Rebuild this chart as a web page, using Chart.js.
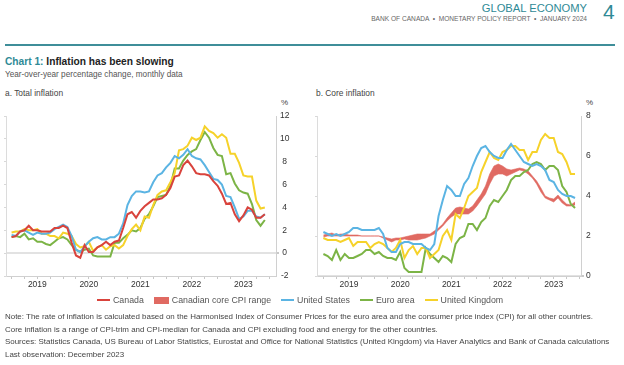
<!DOCTYPE html>
<html><head><meta charset="utf-8">
<script src="https://cdn.jsdelivr.net/npm/chart.js@4.4.1/dist/chart.umd.min.js"></script>
<style>
body{margin:0;background:#fff;font-family:"Liberation Sans",Arial,sans-serif;color:#333;}
#page{position:relative;width:624px;height:365px;overflow:hidden;background:#fff;}
.t{position:absolute;white-space:nowrap;}
.leg{position:absolute;left:97px;top:294px;height:12px;display:flex;align-items:center;font-size:8.8px;color:#555;}
.leg .it{display:flex;align-items:center;margin-right:10px;}
.leg .ln{width:13px;height:2px;margin-right:3px;}
.leg .bx{width:15px;height:7px;margin-right:3px;}
.note{position:absolute;left:5px;font-size:7.95px;color:#444;white-space:nowrap;}
</style></head><body>
<div id="page">
  <div class="t" style="right:37px;top:2px;font-size:11.2px;color:#2f8a96">GLOBAL ECONOMY</div>
  <div class="t" style="right:37px;top:15px;font-size:6.6px;color:#666">BANK OF CANADA &nbsp;•&nbsp; MONETARY POLICY REPORT &nbsp;•&nbsp; JANUARY 2024</div>
  <div class="t" style="left:603px;top:0px;font-size:21px;color:#2f8a96;font-weight:300">4</div>
  <div style="position:absolute;left:5px;top:44px;width:610px;height:2px;background:#3f8e99"></div>
  <div class="t" style="left:5px;top:56px;font-size:10.2px;font-weight:bold;color:#222"><span style="color:#2f8a96">Chart 1:</span> Inflation has been slowing</div>
  <div class="t" style="left:5px;top:70px;font-size:8.2px;color:#555">Year-over-year percentage change, monthly data</div>
  <div class="t" style="left:5px;top:88px;font-size:8.4px;color:#444">a. Total inflation</div>
  <div class="t" style="left:316px;top:88px;font-size:8.4px;color:#444">b. Core inflation</div>
  <div class="t" style="left:281px;top:98px;font-size:8px;color:#444">%</div>
  <div class="t" style="left:586px;top:98px;font-size:8px;color:#444">%</div>
  <canvas id="ca" width="310" height="200" style="position:absolute;left:0;top:96px"></canvas>
  <canvas id="cb" width="314" height="200" style="position:absolute;left:310px;top:96px"></canvas>
  <div class="leg">
    <div class="it"><div class="ln" style="background:#d9433c"></div>Canada</div>
    <div class="it"><div class="bx" style="background:#e06a62"></div>Canadian core CPI range</div>
    <div class="it"><div class="ln" style="background:#5bb4e3"></div>United States</div>
    <div class="it"><div class="ln" style="background:#7cb446"></div>Euro area</div>
    <div class="it"><div class="ln" style="background:#f6d22a"></div>United Kingdom</div>
  </div>
  <div class="note" style="top:312px">Note: The rate of inflation is calculated based on the Harmonised Index of Consumer Prices for the euro area and the consumer price index (CPI) for all other countries.</div>
  <div class="note" style="top:324.5px">Core inflation is a range of CPI-trim and CPI-median for Canada and CPI excluding food and energy for the other countries.</div>
  <div class="note" style="top:337px">Sources: Statistics Canada, US Bureau of Labor Statistics, Eurostat and Office for National Statistics (United Kingdom) via Haver Analytics and Bank of Canada calculations</div>
  <div class="note" style="top:349.5px">Last observation: December 2023</div>
</div>
<script>
// Monthly data, January 2019 to December 2023
const yearLabels = ['2019','2020','2021','2022','2023'];

const canadaTotal = [1.4,1.5,1.9,2.0,2.4,2.0,2.0,1.9,1.9,1.9,2.2,2.2, 2.4,2.2,0.9,-0.2,-0.4,0.7,0.1,0.1,0.5,0.7,1.0,0.7, 1.0,1.1,2.2,3.4,3.6,3.1,3.7,4.1,4.4,4.7,4.7,4.8, 5.1,5.7,6.7,6.8,7.7,8.1,7.6,7.0,6.9,6.9,6.8,6.3, 5.9,5.2,4.3,4.4,3.4,2.8,3.3,4.0,3.8,3.1,3.1,3.4];
const usTotal = [1.6,1.5,1.9,2.0,1.8,1.6,1.8,1.7,1.7,1.8,2.1,2.3, 2.5,2.3,1.5,0.3,0.1,0.6,1.0,1.3,1.4,1.2,1.2,1.4, 1.4,1.7,2.6,4.2,5.0,5.4,5.4,5.3,5.4,6.2,6.8,7.0, 7.5,7.9,8.5,8.3,8.6,9.1,8.5,8.3,8.2,7.7,7.1,6.5, 6.4,6.0,5.0,4.9,4.0,3.0,3.2,3.7,3.7,3.2,3.1,3.4];
const euroTotal = [1.4,1.5,1.4,1.7,1.2,1.3,1.0,1.0,0.8,0.7,1.0,1.3, 1.4,1.2,0.7,0.3,0.1,0.3,0.4,-0.2,-0.3,-0.3,-0.3,-0.3, 0.9,0.9,1.3,1.6,2.0,1.9,2.2,3.0,3.4,4.1,4.9,5.0, 5.1,5.9,7.4,7.4,8.1,8.6,8.9,9.1,9.9,10.6,10.1,9.2, 8.6,8.5,6.9,7.0,6.1,5.5,5.3,5.2,4.3,2.9,2.4,2.9];
const ukTotal = [1.8,1.9,1.9,2.1,2.0,2.0,2.1,1.7,1.7,1.5,1.5,1.3, 1.8,1.7,1.5,0.8,0.5,0.6,1.0,0.2,0.5,0.7,0.3,0.6, 0.7,0.4,0.7,1.5,2.1,2.5,2.0,3.2,3.1,4.2,5.1,5.4, 5.5,6.2,7.0,9.0,9.1,9.4,10.1,9.9,10.1,11.1,10.7,10.5, 10.1,10.4,10.1,8.7,8.7,7.9,6.8,6.7,6.7,4.6,3.9,4.0];

const canadaCoreLow  = [1.95,2.0,2.0,2.0,2.0,2.0,2.0,2.0,2.0,2.0,2.0,2.0, 2.0,2.0,1.9,1.8,1.7,1.8,1.8,1.85,1.8,1.8,1.8,1.85, 1.9,2.0,2.1,2.3,2.5,2.75,2.95,3.1,3.1,3.1,3.1,3.25, 3.5,3.8,4.1,4.6,5.0,5.1,5.1,5.0,5.1,5.2,5.3,5.25, 5.1,4.9,4.6,4.2,3.9,3.8,3.7,3.9,3.65,3.5,3.5,3.55];
const canadaCoreHigh = [2.05,2.1,2.15,2.05,2.1,2.1,2.05,2.05,2.05,2.0,2.0,2.0, 2.0,2.0,1.95,1.9,1.85,1.9,1.9,1.95,2.0,2.05,2.1,2.1, 2.1,2.1,2.25,2.4,2.6,2.9,3.15,3.4,3.45,3.4,3.35,3.5, 3.8,4.1,4.5,5.1,5.5,5.6,5.5,5.35,5.3,5.35,5.4,5.35, 5.25,5.0,4.75,4.4,4.0,3.9,3.85,4.05,3.8,3.6,3.55,3.7];
const usCore = [2.2,2.1,2.0,2.1,2.0,2.1,2.2,2.4,2.4,2.3,2.3,2.3, 2.3,2.4,2.1,1.4,1.2,1.2,1.6,1.7,1.7,1.6,1.6,1.6, 1.4,1.3,1.6,3.0,3.8,4.5,4.3,4.0,4.0,4.6,4.9,5.5, 6.0,6.4,6.5,6.2,6.0,5.9,5.9,6.3,6.6,6.3,6.0,5.7, 5.6,5.5,5.6,5.5,5.3,4.8,4.7,4.3,4.1,4.0,4.0,3.9];
const euroCore = [1.1,1.0,0.8,1.3,0.8,1.1,0.9,0.9,1.0,1.1,1.3,1.3, 1.1,1.2,1.0,0.9,0.9,0.8,1.2,0.4,0.2,0.2,0.2,0.2, 1.4,1.1,0.9,0.7,1.0,0.9,0.7,1.6,1.9,2.0,2.6,2.6, 2.3,2.7,2.9,3.5,3.8,3.7,4.0,4.3,4.8,5.0,5.0,5.2, 5.3,5.6,5.7,5.6,5.3,5.5,5.5,5.3,4.5,4.2,3.6,3.4];
const ukCore = [1.9,1.8,1.8,1.8,1.7,1.8,1.9,1.5,1.7,1.7,1.7,1.4, 1.6,1.7,1.6,1.4,1.2,1.4,1.8,0.9,1.3,1.5,1.1,1.4, 1.4,0.9,1.1,1.3,2.0,2.3,1.8,3.1,2.9,3.4,4.0,4.2, 4.4,5.2,5.7,6.2,5.9,5.8,6.2,6.3,6.5,6.5,6.3,6.3, 5.8,6.2,6.2,6.8,7.1,6.9,6.9,6.2,6.1,5.7,5.1,5.1];

const RED='#d9433c', BAND='#e06a62', BLUE='#5bb4e3', GREEN='#7cb446', YELLOW='#f6d22a';
const pts = arr => arr.map((v,i)=>({x:i,y:v}));
const FONT = {family:'"Liberation Sans", Arial, sans-serif', size:8.5};

function line(data,color){
  return {data:pts(data),borderColor:color,backgroundColor:color,borderWidth:2,pointRadius:0,tension:0,fill:false};
}

function makeChart(id, datasets, cfg){
  const quarterTicks = [];
  for(let m=0;m<=60;m+=cfg.tickStep) quarterTicks.push(m);
  return new Chart(document.getElementById(id),{
    type:'line',
    data:{datasets},
    options:{
      responsive:false,animation:false,
      layout:{padding:{top:20,left:0,right:0,bottom:0}},
      plugins:{legend:{display:false},tooltip:{enabled:false}},
      scales:{
        x:{type:'linear',position:'bottom',min:cfg.xmin,max:cfg.xmax,
          afterBuildTicks:s=>{s.ticks=quarterTicks.map(v=>({value:v}));},
          afterFit:s=>{s.height=20;},
          ticks:{autoSkip:false,maxRotation:0,padding:1,color:'#333',font:FONT,
            callback:v=>((v-6)%12===0 ? yearLabels[(v-6)/12] : '')},
          grid:{drawOnChartArea:false,drawTicks:true,tickLength:3,tickColor:'#c8c8c8'},
          border:{display:true,color:'#d0d0d0',width:1}},
        yL:{position:'left',min:cfg.ymin,max:cfg.ymax,
          afterFit:s=>{s.width=cfg.leftW;},
          ticks:{display:false,stepSize:2},
          grid:{drawOnChartArea:false,drawTicks:true,tickLength:2,tickColor:'#d8d8d8'},
          border:{display:true,color:'#dcdcdc',width:1}},
        y:{position:'right',min:cfg.ymin,max:cfg.ymax,
          afterFit:s=>{s.width=cfg.rightW;},
          ticks:{stepSize:2,padding:cfg.labPad,crossAlign:'center',color:'#333',font:FONT},
          grid:{drawOnChartArea:true,drawTicks:true,tickLength:3,tickColor:'#c8c8c8',
            color:c=>(c.tick && c.tick.value===0 ? '#e2e2e2' : 'rgba(0,0,0,0)'),
            lineWidth:c=>(c.tick && c.tick.value===0 ? 2 : 0)},
          border:{display:true,color:'#d0d0d0',width:1}}
      }
    }
  });
}

makeChart('ca',[
  line(canadaTotal,RED),
  line(usTotal,BLUE),
  line(ukTotal,YELLOW),
  line(euroTotal,GREEN)
],{xmin:-1.3,xmax:61.6,ymin:-2,ymax:12,leftW:6,rightW:34,labPad:1,tickStep:3});

makeChart('cb',[
  line(usCore,BLUE),
  line(ukCore,YELLOW),
  line(euroCore,GREEN),
  {data:pts(canadaCoreHigh),borderColor:BAND,backgroundColor:BAND,borderWidth:0.6,pointRadius:0,tension:0,fill:'+1'},
  {data:pts(canadaCoreLow),borderColor:BAND,backgroundColor:BAND,borderWidth:0.6,pointRadius:0,tension:0,fill:false}
],{xmin:-1.5,xmax:60.4,ymin:0,ymax:8,leftW:7,rightW:43,labPad:2,tickStep:3});
</script>
</body></html>
